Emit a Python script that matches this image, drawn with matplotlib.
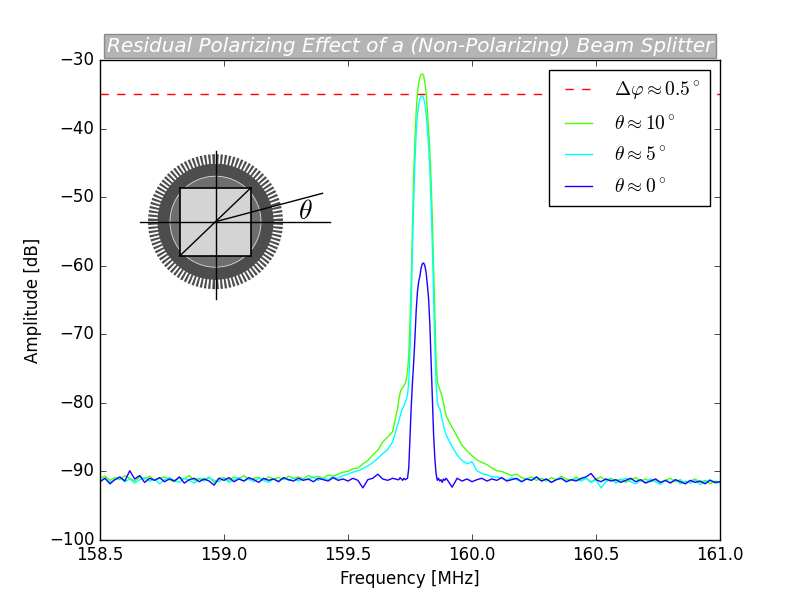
import matplotlib
matplotlib.use("Agg")
import matplotlib.pyplot as plt
import numpy as np
from matplotlib.patches import Circle, Rectangle

plt.style.use("classic")

# frequency grid: coarse baseline, fine around the peak
freq_left = np.round(np.arange(158.50, 159.7001, 0.02), 3)
freq_mid = np.round(np.arange(159.705, 159.8951, 0.005), 3)
freq_right = np.round(np.arange(159.90, 161.0001, 0.02), 3)
freq = np.concatenate([freq_left, freq_mid, freq_right])

# theta ~ 10 deg (green)
amp10_left = [-91.0, -90.7, -91.3, -90.9, -91.2, -90.6, -91.0, -91.4, -90.8, -91.1,
              -90.7, -91.3, -91.0, -90.8, -91.2, -91.5, -90.9, -91.1, -90.6, -91.3,
              -91.0, -91.2, -90.8, -91.6, -91.0, -90.9, -91.3, -90.8, -91.1, -90.6,
              -91.2, -91.0, -90.9, -91.3, -90.8, -91.1, -90.9, -91.2, -90.7, -91.0,
              -90.8, -91.1, -90.6, -90.9, -90.7, -91.0, -90.5, -90.7, -90.4, -90.1,
              -90.0, -89.6, -89.5, -88.9, -88.4, -87.6, -86.9, -85.7, -85.0, -84.2,
              -80.8]
amp10_mid = [-79.5, -78.6, -78.0, -77.8, -77.5, -77.2, -76.6, -75.5, -73.0, -68.0,
             -62.0, -54.0, -46.5, -41.5, -37.5, -34.8, -33.3, -32.5, -32.1, -32.0,
             -32.3, -33.3, -34.8, -37.3, -40.3, -43.2, -47.5, -53.0, -60.0, -67.0,
             -73.5, -76.8, -77.6, -78.0, -78.6, -79.2, -80.0, -81.0, -81.8]
amp10_right = [-82.2, -83.6, -84.9, -86.2, -87.0, -87.7, -88.3, -88.7, -89.0, -89.5,
               -89.9, -90.0, -90.3, -90.6, -90.4, -90.9, -91.1, -90.8, -91.3, -91.0,
               -91.4, -90.9, -91.2, -90.7, -91.1, -91.3, -90.8, -91.2, -91.0, -91.5,
               -91.1, -90.8, -91.3, -91.0, -91.4, -91.1, -91.6, -91.2, -90.9, -91.4,
               -91.1, -91.5, -91.2, -91.7, -91.3, -91.0, -91.5, -91.2, -91.8, -91.4,
               -91.1, -91.6, -91.3, -91.8, -91.4, -91.6]

# theta ~ 5 deg (cyan)
amp5_left = [-91.4, -91.0, -91.6, -91.2, -90.9, -91.5, -91.1, -91.7, -91.2, -90.9,
             -91.4, -91.1, -91.8, -91.2, -90.9, -91.3, -91.6, -91.0, -91.3, -91.7,
             -91.1, -91.4, -90.9, -91.3, -91.5, -91.0, -91.6, -91.2, -90.9, -91.4,
             -91.1, -91.5, -91.0, -91.3, -91.6, -91.1, -91.4, -90.9, -91.3, -91.0,
             -91.4, -91.1, -91.2, -90.8, -91.3, -91.0, -91.2, -90.8, -91.0, -90.6,
             -90.4, -90.1, -89.9, -89.6, -89.2, -88.7, -88.1, -87.4, -86.8, -85.7,
             -83.2]
amp5_mid = [-82.6, -82.0, -81.2, -80.8, -80.5, -80.0, -79.5, -78.8, -77.0, -72.5,
            -65.5, -57.5, -50.5, -44.8, -40.6, -38.0, -36.6, -35.7, -35.3, -35.2,
            -35.5, -36.4, -37.9, -40.0, -42.6, -46.0, -51.0, -57.0, -64.0, -71.5,
            -77.0, -79.8, -80.6, -80.8, -81.5, -82.5, -83.3, -84.0, -84.6]
amp5_right = [-85.0, -86.4, -87.6, -88.4, -88.9, -88.6, -89.9, -90.3, -90.5, -90.8,
              -90.8, -91.0, -91.3, -90.9, -91.2, -91.5, -91.0, -91.3, -90.8, -91.4,
              -91.1, -91.6, -91.2, -91.0, -91.5, -91.3, -91.1, -91.4, -91.0, -91.6,
              -91.2, -92.4, -91.5, -91.1, -91.7, -91.3, -91.0, -91.5, -91.8, -91.3,
              -91.6, -91.1, -91.5, -91.9, -91.3, -91.6, -91.2, -91.8, -91.4, -91.7,
              -91.3, -91.9, -91.5, -91.2, -91.7, -91.6]

# theta ~ 0 deg (blue)
amp0_left = [-91.5, -91.0, -91.8, -91.2, -90.8, -91.4, -89.9, -91.1, -90.6, -91.6,
             -91.0, -91.3, -90.9, -91.5, -91.1, -91.4, -90.8, -91.7, -91.2, -91.0,
             -91.5, -91.1, -91.4, -92.0, -91.0, -91.3, -90.9, -91.5, -91.1, -91.4,
             -90.9, -91.2, -91.6, -91.0, -91.3, -91.1, -91.5, -90.9, -91.2, -91.4,
             -91.0, -91.3, -91.1, -91.5, -91.0, -91.2, -91.4, -90.9, -91.3, -91.1,
             -91.4, -91.0, -91.3, -92.4, -91.2, -91.0, -90.4, -91.1, -91.3, -91.0,
             -91.2]
amp0_mid = [-91.2, -90.9, -91.1, -91.3, -91.0, -91.2, -91.1, -91.0, -89.5, -85.0,
            -80.5, -77.0, -74.0, -70.5, -66.5, -63.8, -62.3, -61.5, -60.3, -59.7,
            -59.6, -60.0, -61.0, -62.8, -64.8, -68.5, -73.7, -79.0, -84.5, -88.0,
            -90.3, -91.3, -91.0, -91.4, -91.2, -91.6, -91.1, -91.3, -91.0]
amp0_right = [-91.2, -92.3, -91.0, -91.4, -91.1, -91.5, -91.2, -91.0, -91.4, -91.1,
              -91.3, -90.9, -91.4, -91.2, -91.0, -91.5, -91.1, -91.3, -90.8, -91.4,
              -91.1, -91.6, -91.2, -91.0, -91.5, -91.2, -91.4, -91.0, -90.8, -90.3,
              -91.2, -91.5, -91.1, -91.4, -91.2, -91.6, -91.3, -91.0, -91.5, -91.2,
              -91.7, -91.4, -91.1, -91.6, -91.3, -91.7, -91.2, -91.5, -91.8, -91.3,
              -91.6, -91.4, -91.8, -91.3, -91.6, -91.5]

amp10 = np.array(amp10_left + amp10_mid + amp10_right)
amp5 = np.array(amp5_left + amp5_mid + amp5_right)
amp0 = np.array(amp0_left + amp0_mid + amp0_right)

phase_limit = -35.0
labels = [r"$\Delta\varphi \approx 0.5^\circ$", r"$\theta \approx 10^\circ$",
          r"$\theta \approx 5^\circ$", r"$\theta \approx 0^\circ$"]

fig = plt.figure(figsize=(8, 6), dpi=100, facecolor="white")
ax = fig.add_axes([0.125, 0.1, 0.775, 0.8])

ax.axhline(phase_limit, color="red", ls="--", lw=1, label=labels[0])
ax.plot(freq, amp10, color="#4cff00", lw=1, label=labels[1])
ax.plot(freq, amp5, color="#00ffff", lw=1, label=labels[2])
ax.plot(freq, amp0, color="#1a00ff", lw=1, label=labels[3])

ax.set_xlim(158.5, 161.0)
ax.set_ylim(-100, -30)
ax.set_xticks(np.arange(158.5, 161.01, 0.5))
ax.set_xlabel("Frequency [MHz]")
ax.set_ylabel("Amplitude [dB]")
ax.set_title("Residual Polarizing Effect of a (Non-Polarizing) Beam Splitter",
             style="italic", color="white", fontsize=14.4, pad=6,
             bbox=dict(facecolor="#b4b4b4", edgecolor="#8a8a8a", pad=2))
ax.legend(loc="upper right", fontsize=14, numpoints=2,
          labelspacing=0.65, borderpad=0.5)

# inset sketch of the rotation mount (units: pixels from the mount centre)
ins = fig.add_axes([135 / 800, 295 / 600, 205 / 800, 160 / 600])
ins.set_xlim(-80.5, 124.5)
ins.set_ylim(-83.3, 76.7)
ins.axis("off")

ins.add_patch(Circle((0, 0), 67.5, color="#4d4d4d", lw=0))
for a in np.linspace(0, 2 * np.pi, 100, endpoint=False):
    ins.plot([58 * np.cos(a), 69 * np.cos(a)], [58 * np.sin(a), 69 * np.sin(a)],
             color="white", lw=1.3, solid_capstyle="butt")
ins.add_patch(Circle((0, 0), 45.5, facecolor="#6e6e6e", edgecolor="#dddddd", lw=0.6))
ins.add_patch(Rectangle((-35.5, -34), 71, 68, facecolor="#d4d4d4",
                        edgecolor="black", lw=1.2))
ins.plot([-35.5, 35.5], [-34, 34], color="black", lw=1)
ins.plot([-75.5, 114.5], [0, 0], color="black", lw=1)
ins.plot([0, 0], [-77, 71], color="black", lw=1)
ins.plot([0, 107], [0, 28.4], color="black", lw=1)
ins.text(90, 11, r"$\theta$", fontsize=20, ha="center", va="center")

fig.savefig("out.png", dpi=100, facecolor="white")
